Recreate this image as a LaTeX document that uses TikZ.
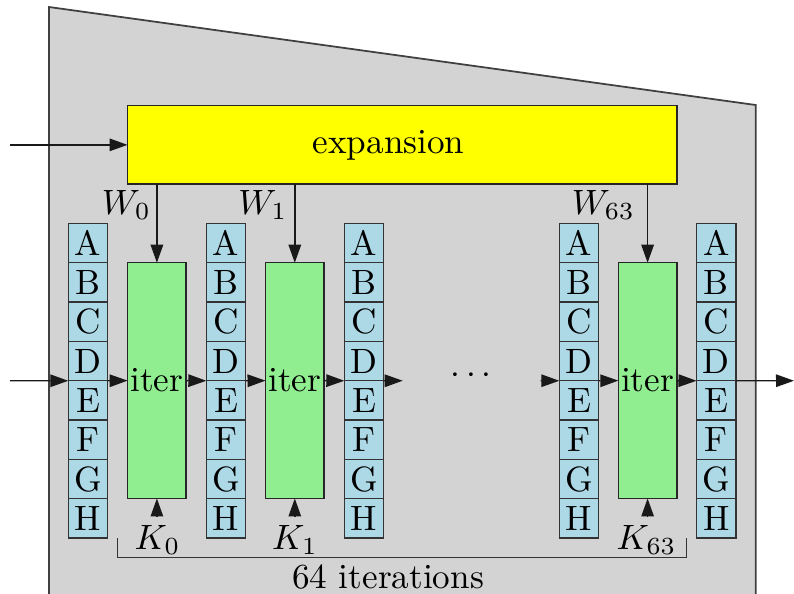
\documentclass[tikz,border=0pt]{standalone}
\usetikzlibrary{arrows.meta}
\definecolor{panelgray}{RGB}{211,211,211}
\definecolor{reglblue}{RGB}{173,216,230}
\definecolor{iterlgreen}{RGB}{144,238,144}
\definecolor{expyellow}{RGB}{255,255,0}
\begin{document}
\begin{tikzpicture}[x=0.01cm,y=-0.01cm,
  reg/.style={draw=black!80, fill=reglblue, minimum width=0.394cm, minimum height=0.394cm,
    inner sep=0pt, outer sep=0pt},
  itbox/.style={draw=black!85, fill=iterlgreen, minimum width=0.585cm, minimum height=2.356cm,
    inner sep=0pt, outer sep=0pt},
  expbox/.style={draw=black!85, fill=expyellow, minimum width=5.493cm, minimum height=0.783cm,
    inner sep=0pt, outer sep=0pt},
  arr/.style={draw=black!90, -{Triangle[length=0.18cm,width=0.125cm]}},
  wlab/.style={anchor=east, inner sep=1pt},
  klab/.style={anchor=north, inner sep=2.2pt},
]
\useasboundingbox (0,0) rectangle (794,593);
\clip (0,0) rectangle (794,593);

% housing panel
\draw[draw=black!75, fill=panelgray, line width=0.5pt]
  (49,7) -- (755.7,105) -- (755.7,640) -- (49,640) -- cycle;

% message expansion
\node[expbox] (exp) at (402.35,144.85) {};
\node (explab) at (388.5,144.85) {expansion};

% state registers A..H
\foreach \n/\x in {1/88,2/226,3/364,4/579,5/716.2} {
  \foreach \L [count=\i] in {A,B,C,D,E,F,G,H} {
    \node[reg] (c\n\L) at (\x,{203.65+39.35*\i}) {\L};
  }
}

% round functions
\node[itbox] (it1) at (156.9,380.6) {iter};
\node[itbox] (it2) at (294.8,380.6) {iter};
\node[itbox] (it3) at (647.6,380.6) {iter};

% inputs
\coordinate (inM) at (10,144.85);
\coordinate (inS) at (10,380.7);
\draw[arr] (inM) -- (exp.west);
\draw[arr] (inS) -- (c1D.south west);

% state chain
\draw[arr] (c1D.south east) -- (it1.west);
\draw[arr] (it1.east) -- (c2D.south west);
\draw[arr] (c2D.south east) -- (it2.west);
\draw[arr] (it2.east) -- (c3D.south west);
\coordinate (gapL) at (402.7,380.7);
\coordinate (gapR) at (540.7,380.7);
\draw[arr] (c3D.south east) -- (gapL);
\node (dots) at (471,376) {$\cdots$};
\draw[arr] (gapR) -- (c4D.south west);
\draw[arr] (c4D.south east) -- (it3.west);
\draw[arr] (it3.east) -- (c5D.south west);
\coordinate (outS) at (794,380.7);
\draw[arr] (c5D.south east) -- (outS);

% message words
\draw[arr] (exp.south -| it1.north) -- (it1.north);
\draw[arr] (exp.south -| it2.north) -- (it2.north);
\draw[arr] (exp.south -| it3.north) -- (it3.north);
\node[wlab] (w0) at (155,205) {$W_0$};
\node[wlab] (w1) at (291.5,205) {$W_1$};
\node[wlab] (w63) at (639,205) {$W_{63}$};

% round constants
\node[klab] (k0) at (157.5,517) {$K_0$};
\node[klab] (k1) at (295,517) {$K_1$};
\node[klab] (k63) at (646.5,517) {$K_{63}$};
\draw[arr] (k0.north -| it1.south) -- (it1.south);
\draw[arr] (k1.north -| it2.south) -- (it2.south);
\draw[arr] (k63.north -| it3.south) -- (it3.south);

% iteration bracket
\draw[black!80] (117.3,538) -- (117.3,557.3) -- (686.7,557.3) -- (686.7,538);
\node (rounds) at (388,577) {64 iterations};
\end{tikzpicture}
\end{document}
